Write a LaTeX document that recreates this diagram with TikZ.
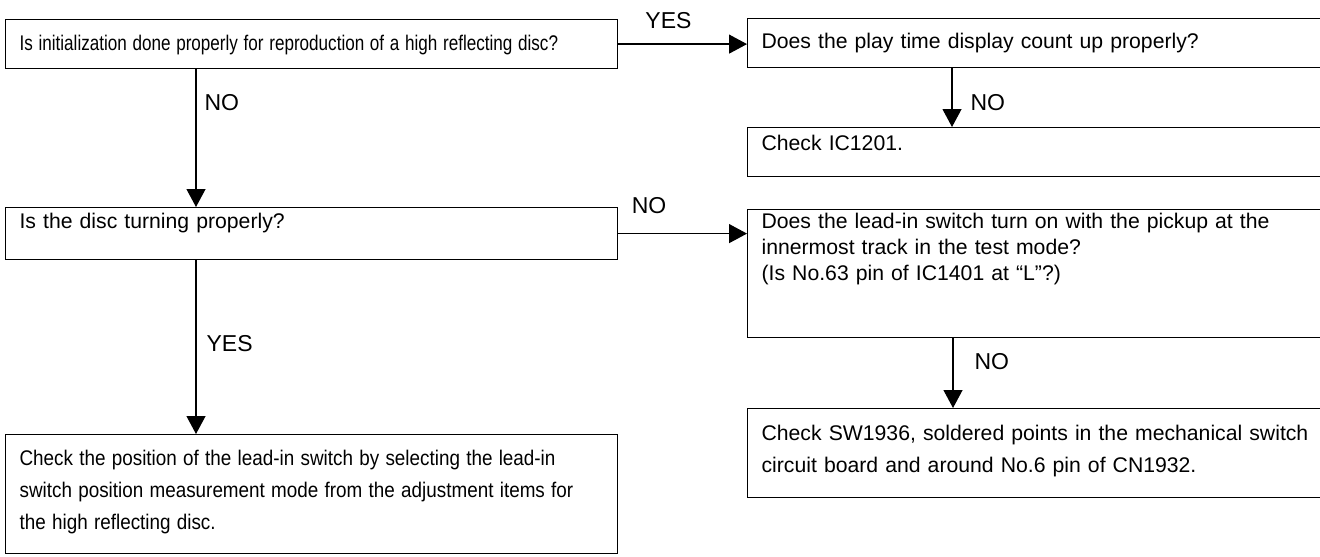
\documentclass[tikz,border=0pt]{standalone}
\usepackage{fontspec}
\setmainfont{Liberation Sans}
\usepackage{tikz}
\usetikzlibrary{arrows.meta}

\begin{document}
\begin{tikzpicture}[x=0.5pt,y=-0.5pt,
		box/.style={draw,line width=0.6pt,anchor=north west,inner sep=0pt,align=left,font=\fontsize{10.6}{16}\selectfont,execute at begin node={\leftskip=7pt\relax}},
		wide/.style={text width=306pt},
		narrow/.style={text width=287pt},
		lbl/.style={inner sep=0pt,font=\fontsize{11.5}{13}\selectfont},
		go/.style={line width=0.6pt,-{Triangle[length=9pt,width=9.5pt]}}]
		\useasboundingbox (0,0) rectangle (1320,556);
		\node[box,wide,text height=15.5pt,text depth=9pt] (b1) at (5,19) {\scalebox{0.806}[1]{Is initialization done properly for reproduction of a high reflecting disc?}};
		\node[box,narrow,text height=15pt,text depth=9.5pt] (b2) at (747,18) {Does the play time display count up properly?};
		\node[box,narrow,text height=11.5pt,text depth=13pt] (b3) at (747,127) {Check IC1201.};
		\node[box,wide,text height=10.5pt,text depth=15.5pt] (b4) at (5,207) {Is the disc turning properly?};
		\node[box,narrow,text height=9.5pt,text depth=54.5pt,font=\fontsize{10.6}{13}\selectfont] (b5) at (747,209) {Does the lead-in switch turn on with the pickup at the\\innermost track in the test mode?\\(Is No.63 pin of IC1401 at “L”?)};
		\node[box,narrow,text height=16pt,text depth=28.5pt] (b6) at (747,408) {Check SW1936, soldered points in the mechanical switch\\circuit board and around No.6 pin of CN1932.};
		\node[box,wide,text height=15.5pt,text depth=44pt] (b7) at (5,434) {\scalebox{0.89}[1]{Check the position of the lead-in switch by selecting the lead-in}\\\scalebox{0.89}[1]{switch position measurement mode from the adjustment items for}\\\scalebox{0.89}[1]{the high reflecting disc.}};
		\draw[go] (b1.east) -- (b1.east -| b2.west) node[lbl,above=7.5pt,pos=0.39] (y1) {YES};
		\draw[go] ([xshift=95.5pt]b1.south west) -- ([xshift=95.5pt]b4.north west) node[lbl,right=4pt,pos=0.24] (n1) {NO};
		\draw[go] ([xshift=102.5pt]b2.south west) -- ([xshift=102.5pt]b3.north west) node[lbl,right=9pt,pos=0.58] (n2) {NO};
		\draw[go] (b4.east) -- (b4.east -| b5.west) node[lbl,above=9.5pt,pos=0.24] (n3) {NO};
		\draw[go] ([xshift=95.5pt]b4.south west) -- ([xshift=95.5pt]b7.north west) node[lbl,right=5pt,pos=0.48] (y2) {YES};
		\draw[go] ([xshift=103pt]b5.south west) -- ([xshift=103pt]b6.north west) node[lbl,right=10.5pt,pos=0.34] (n4) {NO};
	\end{tikzpicture}
\end{document}
